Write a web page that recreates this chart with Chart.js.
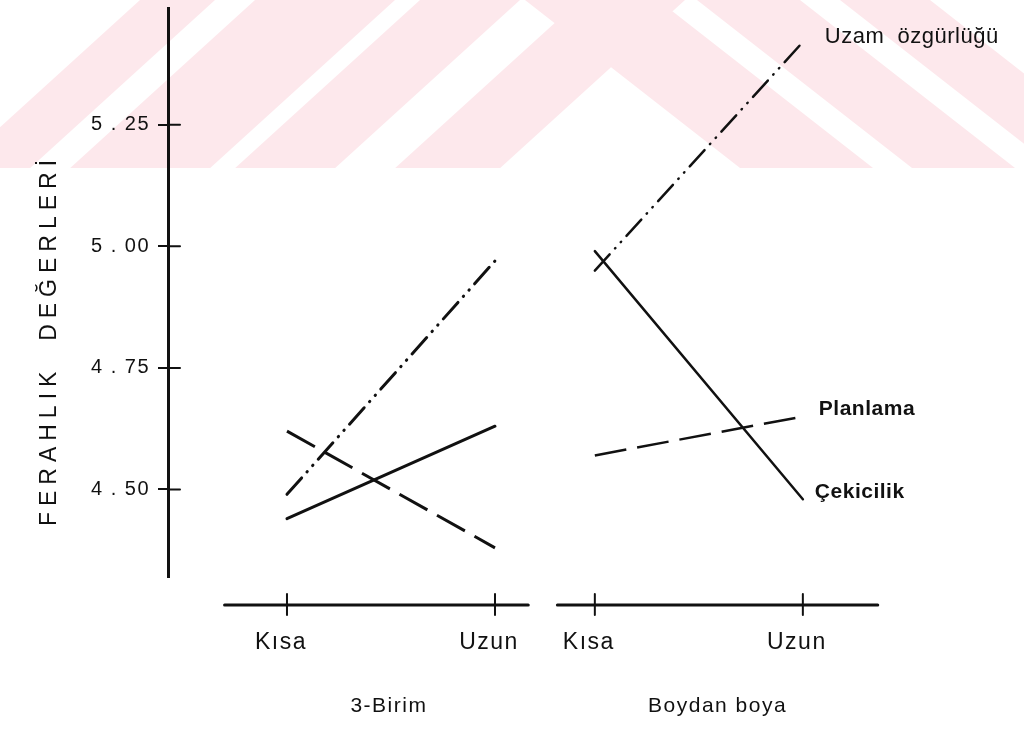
<!DOCTYPE html>
<html>
<head>
<meta charset="utf-8">
<script src="https://cdn.jsdelivr.net/npm/chart.js@4"></script>
<style>
html, body { margin: 0; padding: 0; background: #fff; }
#wrap { width: 1024px; height: 745px; }
</style>
</head>
<body>
<div id="wrap"><canvas id="chart"></canvas></div>
<script>
var groups = ['3-Birim', 'Boydan boya'];
var lengths = ['Kısa', 'Uzun'];
var seriesNames = ['Uzam  özgürlüğü', 'Planlama', 'Çekicilik'];
var yTicks = [4.50, 4.75, 5.00, 5.25];
var yTitle = 'FERAHLIK  DEĞERLERİ';

// [3-Birim Kısa, 3-Birim Uzun, Boydan boya Kısa, Boydan boya Uzun]
var uzamValues = [4.49, 4.97, 4.95, 5.42];
var planlamaValues = [4.62, 4.38, 4.57, 4.65];
var cekicilikValues = [4.44, 4.63, 4.99, 4.48];

var seriesValues = [uzamValues, planlamaValues, cekicilikValues];

// layout of the two groups on the x scale
var GROUP_STEP = 1.48;
function pos(g, i) { return g * GROUP_STEP + i; }
var groupLabelPos = [0.49, 2.07];
var xSegments = [[-0.30, 1.16], [1.30, 2.84]];

var lineStyles = [
    { dash: [22, 8, 0.5, 8, 0.5, 8], cap: 'round', font: '22px', dx: 22, dy: -5 },
    { dash: [32, 11], cap: 'butt', font: 'bold 21px', dx: 16, dy: -7 },
    { dash: [], cap: 'round', font: 'bold 21px', dx: 12, dy: -7 }
];
var groupWidths = [3, 2.5];
var ink = '#111';
var pink = '#fde8ec';
var fontFamily = '"Liberation Sans", Arial, sans-serif';

// faint watermark stripes in the top band (top x range, slope)
var wmBottom = 168;
var wmStripes = [
    [140, 215, -1.1], [255, 395, -1.1], [420, 520, -1.1], [580, 685, -1.1],
    [525, 658, 1.28], [697, 800, 1.28], [840, 930, 1.28]
];

function buildDatasets() {
    var result = [];
    seriesValues.forEach(function (vals, s) {
        groups.forEach(function (grp, g) {
            result.push({
                label: seriesNames[s] + ' - ' + grp,
                data: [
                    { x: pos(g, 0), y: vals[g * 2] },
                    { x: pos(g, 1), y: vals[g * 2 + 1] }
                ],
                borderColor: ink,
                borderWidth: groupWidths[g],
                borderDash: lineStyles[s].dash,
                borderCapStyle: lineStyles[s].cap,
                pointRadius: 0,
                fill: false,
                tension: 0
            });
        });
    });
    return result;
}

var decorPlugin = {
    id: 'decor',
    beforeDraw: function (chart) {
        var ctx = chart.ctx;
        ctx.save();
        ctx.fillStyle = pink;
        wmStripes.forEach(function (st) {
            var off = st[2] * wmBottom;
            ctx.beginPath();
            ctx.moveTo(st[0], 0);
            ctx.lineTo(st[1], 0);
            ctx.lineTo(st[1] + off, wmBottom);
            ctx.lineTo(st[0] + off, wmBottom);
            ctx.closePath();
            ctx.fill();
        });
        ctx.restore();
        ctx.letterSpacing = '1.5px';
    },
    afterDraw: function (chart) {
        var ctx = chart.ctx;
        var xs = chart.scales.x, ys = chart.scales.y;
        var area = chart.chartArea;
        ctx.save();
        ctx.strokeStyle = ink;
        ctx.fillStyle = ink;

        // two separate x axis pieces with crossing ticks
        var axisY = area.bottom + 28;
        ctx.lineWidth = 3;
        ctx.lineCap = 'round';
        xSegments.forEach(function (seg) {
            ctx.beginPath();
            ctx.moveTo(xs.getPixelForValue(seg[0]), axisY);
            ctx.lineTo(xs.getPixelForValue(seg[1]), axisY);
            ctx.stroke();
        });
        ctx.lineWidth = 2;
        groups.forEach(function (grp, g) {
            lengths.forEach(function (l, i) {
                var px = xs.getPixelForValue(pos(g, i));
                ctx.beginPath();
                ctx.moveTo(px, axisY - 11);
                ctx.lineTo(px, axisY + 10);
                ctx.stroke();
            });
        });

        // right half of the y ticks
        yTicks.forEach(function (v) {
            var py = ys.getPixelForValue(v);
            ctx.beginPath();
            ctx.moveTo(area.left, py);
            ctx.lineTo(area.left + 12, py);
            ctx.stroke();
        });

        // y title
        ctx.letterSpacing = '6px';
        ctx.font = '23px ' + fontFamily;
        ctx.textAlign = 'center';
        ctx.textBaseline = 'middle';
        ctx.save();
        ctx.translate(50, 340);
        ctx.rotate(-Math.PI / 2);
        ctx.fillText(yTitle, 0, 0);
        ctx.restore();

        // series names at the end of the right lines
        ctx.letterSpacing = '0.5px';
        ctx.textAlign = 'left';
        seriesNames.forEach(function (name, s) {
            var st = lineStyles[s];
            var px = xs.getPixelForValue(pos(1, 1));
            var py = ys.getPixelForValue(seriesValues[s][3]);
            ctx.font = st.font + ' ' + fontFamily;
            ctx.fillText(name, px + st.dx, py + st.dy);
        });
        ctx.restore();
    }
};

new Chart(document.getElementById('chart'), {
    type: 'line',
    data: { datasets: buildDatasets() },
    options: {
        responsive: true,
        maintainAspectRatio: false,
        animation: false,
        layout: { padding: { top: 8, right: 20, bottom: 26, left: 0 } },
        plugins: { legend: { display: false }, tooltip: { enabled: false } },
        scales: {
            x: {
                type: 'linear',
                position: 'bottom',
                weight: 0,
                min: -0.572,
                max: 3.447,
                afterFit: function (scale) { scale.height = 80; },
                grid: { display: false, drawTicks: false },
                border: { display: false },
                afterBuildTicks: function (scale) {
                    var t = [];
                    groups.forEach(function (grp, g) {
                        lengths.forEach(function (l, i) { t.push({ value: pos(g, i) }); });
                    });
                    scale.ticks = t;
                },
                ticks: {
                    autoSkip: false,
                    maxRotation: 0,
                    padding: 52,
                    labelOffset: -6,
                    color: ink,
                    font: { family: fontFamily, size: 23 },
                    callback: function (value, index) { return lengths[index % 2]; }
                }
            },
            x2: {
                type: 'linear',
                position: 'bottom',
                weight: 1,
                min: -0.572,
                max: 3.447,
                afterFit: function (scale) { scale.height = 62; },
                grid: { display: false, drawTicks: false },
                border: { display: false },
                afterBuildTicks: function (scale) {
                    scale.ticks = groupLabelPos.map(function (v) { return { value: v }; });
                },
                ticks: {
                    autoSkip: false,
                    maxRotation: 0,
                    padding: 37,
                    color: ink,
                    font: { family: fontFamily, size: 21 },
                    callback: function (value, index) { return groups[index]; }
                }
            },
            y: {
                min: 4.32,
                max: 5.49,
                afterFit: function (scale) {
                    scale.width = 168;
                    scale.paddingTop = 0;
                    scale.paddingBottom = 0;
                },
                afterBuildTicks: function (scale) {
                    scale.ticks = yTicks.map(function (v) { return { value: v }; });
                },
                grid: {
                    drawOnChartArea: false,
                    drawTicks: true,
                    tickLength: 10,
                    color: ink,
                    lineWidth: 2
                },
                border: { display: true, color: ink, width: 3 },
                ticks: {
                    padding: 8,
                    color: ink,
                    font: { family: fontFamily, size: 20 },
                    callback: function (value) {
                        var s = value.toFixed(2).split('.');
                        return s[0] + ' . ' + s[1];
                    }
                }
            }
        }
    },
    plugins: [decorPlugin]
});
</script>
</body>
</html>
